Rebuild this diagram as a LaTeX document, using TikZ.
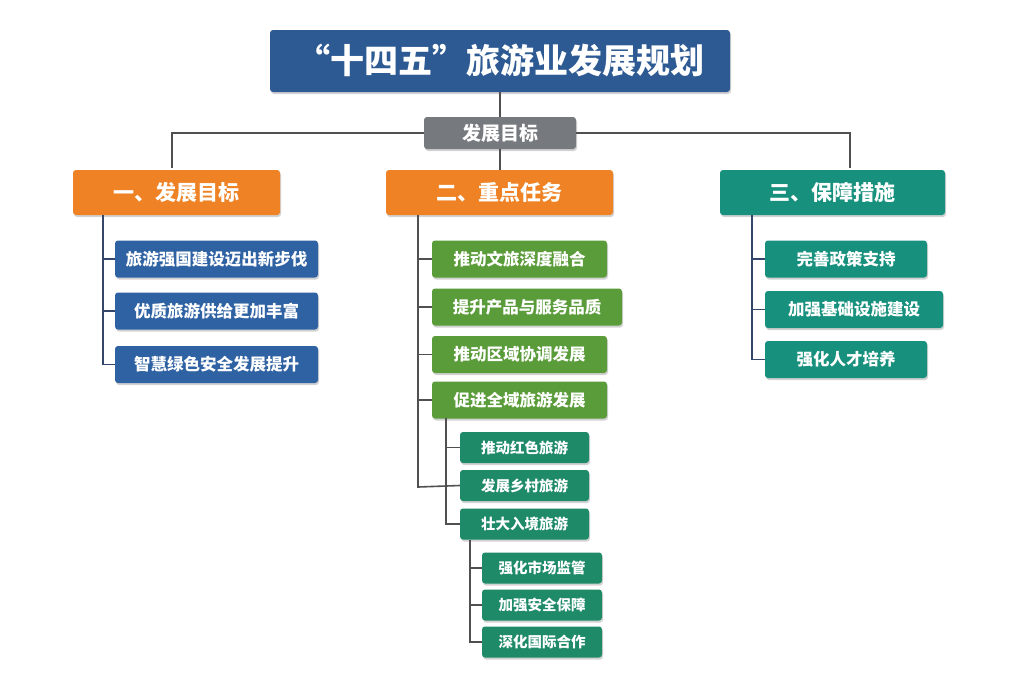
\documentclass[tikz,border=0pt]{standalone}
\usepackage{fontspec}
\setmainfont{Noto Sans CJK SC}
\usetikzlibrary{shadows}
\definecolor{tblue}{HTML}{2D5A93}
\definecolor{iblue}{HTML}{2F62A3}
\definecolor{gor}{HTML}{EE8224}
\definecolor{gteal}{HTML}{17917E}
\definecolor{ggreen}{HTML}{5B9C3A}
\definecolor{sgreen}{HTML}{1E8A68}
\definecolor{ggray}{HTML}{76797D}
\definecolor{lnav}{HTML}{34466A}
\definecolor{lgray}{HTML}{505050}
\begin{document}
\begin{tikzpicture}[x=1pt,y=-1pt,
 box/.style={rounded corners=3pt,text=white,font=\bfseries,drop shadow={shadow xshift=1pt,shadow yshift=-2pt,opacity=0.35}},
 ln/.style={line width=1.6pt,lgray},
 lb/.style={line width=1.6pt,lnav}]
\useasboundingbox (0,0) rectangle (1024,683);
\fill[white] (0,0) rectangle (1024,683);
% title
\node[box,fill=tblue,minimum width=460pt,minimum height=62pt,font=\bfseries\fontsize{34}{36}\selectfont] (t) at (500,61) {“十四五”旅游业发展规划};
\node[box,fill=ggray,minimum width=152pt,minimum height=32pt,font=\bfseries\fontsize{19}{21}\selectfont] (g) at (500,133) {发展目标};
\draw[ln] (t.south) -- (g.north);
\draw[ln] (g.south) -- (500,170);
\draw[ln] (172,168) |- (g.west);
\draw[ln] (850,168) |- (g.east);
\node[box,fill=gor,minimum width=207pt,minimum height=45pt,font=\bfseries\fontsize{21}{23}\selectfont] (h1) at (176.5,192.5) {一、发展目标};
\node[box,fill=gor,minimum width=227pt,minimum height=45pt,font=\bfseries\fontsize{21}{23}\selectfont] (h2) at (499.5,192.5) {二、重点任务};
\node[box,fill=gteal,minimum width=225pt,minimum height=45pt,font=\bfseries\fontsize{21}{23}\selectfont] (h3) at (832.5,192.5) {三、保障措施};
% left
\tikzset{it/.style={box,minimum height=37pt,font=\bfseries\fontsize{16.5}{18}\selectfont}}
\node[it,fill=iblue,minimum width=203pt] (l1) at (216.5,259) {旅游强国建设迈出新步伐};
\node[it,fill=iblue,minimum width=203pt] (l2) at (216.5,311) {优质旅游供给更加丰富};
\node[it,fill=iblue,minimum width=203pt] (l3) at (216.5,364.5) {智慧绿色安全发展提升};
\draw[lb] (103,215) |- (l3.west);
\draw[lb] (103,259) -- (l1.west); \draw[lb] (103,311) -- (l2.west);
% right
\node[it,fill=gteal,minimum width=162pt] (r1) at (846,259) {完善政策支持};
\node[it,fill=gteal,minimum width=178pt] (r2) at (854,309.5) {加强基础设施建设};
\node[it,fill=gteal,minimum width=162pt] (r3) at (846,359.5) {强化人才培养};
\draw[lb] (752,215) |- (r3.west);
\draw[lb] (752,259) -- (r1.west); \draw[lb] (752,309.5) -- (r2.west);
% middle
\node[it,fill=ggreen,minimum width=175pt] (m1) at (519.5,259) {推动文旅深度融合};
\node[it,fill=ggreen,minimum width=190pt] (m2) at (527,307) {提升产品与服务品质};
\node[it,fill=ggreen,minimum width=175pt] (m3) at (519.5,354.5) {推动区域协调发展};
\node[it,fill=ggreen,minimum width=175pt] (m4) at (519.5,400) {促进全域旅游发展};
\draw[ln] (418,215) |- (m1.west);
\draw[ln] (418,259) |- (m2.west);
\draw[ln] (418,307) |- (m3.west);
\draw[ln] (418,354.5) |- (m4.west);
\tikzset{si/.style={box,fill=sgreen,minimum height=31pt,font=\bfseries\fontsize{14.5}{16}\selectfont}}
\node[si,minimum width=129pt] (s1) at (524.5,447.5) {推动红色旅游};
\node[si,minimum width=129pt] (s2) at (524.5,485.5) {发展乡村旅游};
\node[si,minimum width=129pt] (s3) at (524.5,524) {壮大入境旅游};
\draw[ln] (418,400) -- (418,487) -- (s2.west);
\draw[ln] (446,418) |- (s3.west);
\draw[ln] (446,447.5) -- (s1.west);
\node[si,minimum width=120pt] (u1) at (542,568) {强化市场监管};
\node[si,minimum width=120pt] (u2) at (542,605) {加强安全保障};
\node[si,minimum width=120pt] (u3) at (542,642) {深化国际合作};
\draw[ln] (470,540) |- (u3.west);
\draw[ln] (470,568) -- (u1.west); \draw[ln] (470,605) -- (u2.west);
\end{tikzpicture}
\end{document}
